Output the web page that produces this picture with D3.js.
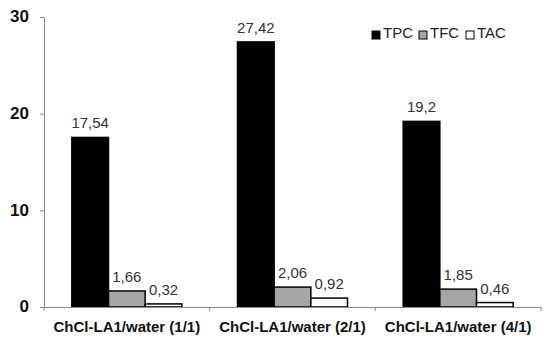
<!DOCTYPE html>
<html>
<head>
<meta charset="utf-8">
<script src="https://cdn.jsdelivr.net/npm/d3@7"></script>
<style>
  body { margin: 0; background: #fff; }
  svg { display: block; font-family: "Liberation Sans", Arial, sans-serif; }
</style>
</head>
<body>
<svg id="chart" width="550" height="345"></svg>
<script>
// data
const categories = ["ChCl-LA1/water (1/1)", "ChCl-LA1/water (2/1)", "ChCl-LA1/water (4/1)"];
const seriesNames = ["TPC", "TFC", "TAC"];
const TPC = [17.54, 27.42, 19.2];
const TFC = [1.66, 2.06, 1.85];
const TAC = [0.32, 0.92, 0.46];
const labelsTPC = ["17,54", "27,42", "19,2"];
const labelsTFC = ["1,66", "2,06", "1,85"];
const labelsTAC = ["0,32", "0,92", "0,46"];
const yTicks = [0, 10, 20, 30];

const fills = { TPC: "#000000", TFC: "#a6a6a6", TAC: "#ffffff" };
const values = { TPC, TFC, TAC };
const labels = { TPC: labelsTPC, TFC: labelsTFC, TAC: labelsTAC };

const margin = { top: 17, right: 9, bottom: 38, left: 44 };
const width = 550, height = 345;

const svg = d3.select("#chart");

const x = d3.scaleBand().domain(categories).range([margin.left, width - margin.right]).padding(0);
const y = d3.scaleLinear().domain([0, 30]).range([height - margin.bottom, margin.top]);
const groupW = 110;
const xs = d3.scaleBand().domain(seriesNames).range([0, groupW]).padding(0);

// bars + value labels
categories.forEach((c, i) => {
  const gx = x(c) + (x.bandwidth() - groupW) / 2;
  seriesNames.forEach(s => {
    const v = values[s][i];
    svg.append("rect")
      .attr("x", gx + xs(s))
      .attr("y", y(v))
      .attr("width", xs.bandwidth())
      .attr("height", y(0) - y(v))
      .attr("fill", fills[s])
      .attr("stroke", "#000")
      .attr("stroke-width", 1.5);
    svg.append("text")
      .attr("x", gx + xs(s) + xs.bandwidth() / 2)
      .attr("y", y(v) - 9)
      .attr("text-anchor", "middle")
      .attr("font-size", 15)
      .attr("fill", "#333")
      .text(labels[s][i]);
  });
});

// y axis
const yAxis = svg.append("g")
  .attr("transform", `translate(${margin.left},0)`)
  .call(d3.axisLeft(y).tickValues(yTicks).tickSize(4).tickFormat(d3.format("d")));
yAxis.select(".domain").attr("stroke", "#888");
yAxis.selectAll(".tick line").attr("stroke", "#888");
yAxis.selectAll(".tick text")
  .attr("font-size", 17)
  .attr("font-weight", "bold")
  .attr("fill", "#111")
  .attr("x", -15)
  .attr("dy", "0.28em")
  .attr("font-family", "Liberation Sans, Arial, sans-serif");

// x axis
const xAxis = svg.append("g")
  .attr("transform", `translate(0,${y(0)})`)
  .call(d3.axisBottom(x).tickSize(0).tickPadding(14));
xAxis.select(".domain").attr("stroke", "#888");
xAxis.selectAll(".tick text")
  .attr("font-size", 15)
  .attr("font-weight", "bold")
  .attr("fill", "#111")
  .attr("font-family", "Liberation Sans, Arial, sans-serif");
// category boundary ticks
const bounds = categories.map(c => x(c)).concat([x.range()[1]]);
svg.selectAll(".bound").data(bounds).enter().append("line")
  .attr("x1", d => d).attr("x2", d => d)
  .attr("y1", y(0)).attr("y2", y(0) + 4)
  .attr("stroke", "#888");

// legend
const legend = svg.append("g").attr("transform", "translate(372,38)");
seriesNames.forEach((s, i) => {
  const lx = i * 47;
  legend.append("rect")
    .attr("x", lx).attr("y", -7)
    .attr("width", 8).attr("height", 8)
    .attr("fill", fills[s]).attr("stroke", "#000").attr("stroke-width", 1);
  legend.append("text")
    .attr("x", lx + 11).attr("y", 0)
    .attr("font-size", 15)
    .attr("fill", "#222")
    .text(s);
});
</script>
</body>
</html>
